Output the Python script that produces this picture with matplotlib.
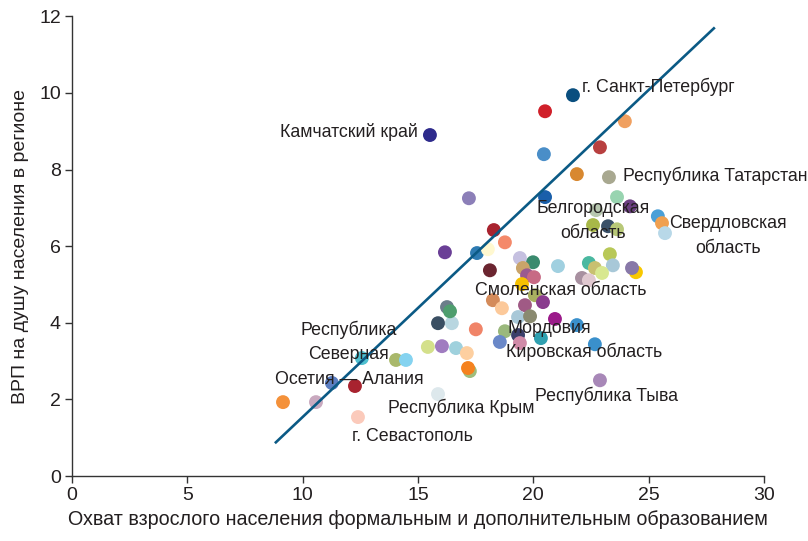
import matplotlib
matplotlib.use("Agg")
import matplotlib.pyplot as plt

plt.rcParams['font.family'] = ['Liberation Sans', 'DejaVu Sans']

# --- data ---
x_vals = [9.15, 10.58, 11.27, 12.27, 12.40, 12.57, 14.05, 14.48, 15.43, 16.04,
          16.65, 17.12, 17.25, 17.17, 15.87, 15.87, 16.47, 16.26, 16.39, 17.51,
          16.17, 17.21, 15.52, 17.56, 18.03, 18.29, 18.77, 18.12, 19.42, 19.99,
          19.55, 19.73, 20.03, 19.51, 20.07, 20.42, 19.64, 18.25, 18.64, 19.34,
          19.86, 20.94, 21.89, 18.77, 18.55, 19.34, 19.42, 20.33, 22.67, 22.89,
          21.72, 20.51, 23.97, 20.46, 22.89, 21.89, 23.28, 20.51, 23.63, 24.19,
          22.72, 22.59, 23.24, 23.63, 25.40, 25.58, 25.71, 23.32, 22.41, 23.45,
          22.67, 22.98, 22.11, 22.41, 24.45, 24.28, 21.07]
y_vals = [1.93, 1.93, 2.43, 2.35, 1.54, 3.08, 3.03, 3.03, 3.37, 3.39,
          3.34, 3.21, 2.74, 2.82, 2.14, 3.99, 3.99, 4.41, 4.30, 3.83,
          5.84, 7.25, 8.90, 5.82, 5.92, 6.42, 6.10, 5.37, 5.69, 5.58,
          5.43, 5.24, 5.19, 5.01, 4.72, 4.54, 4.46, 4.59, 4.38, 4.15,
          4.17, 4.10, 3.94, 3.78, 3.50, 3.68, 3.47, 3.60, 3.44, 2.50,
          9.94, 9.52, 9.26, 8.40, 8.58, 7.88, 7.80, 7.28, 7.28, 7.04,
          6.94, 6.55, 6.52, 6.44, 6.78, 6.60, 6.34, 5.79, 5.56, 5.50,
          5.43, 5.30, 5.17, 5.11, 5.32, 5.43, 5.48]
colors = ['#f4913a', '#c9a9bf', '#5b7ec2', '#a8232f', '#fbcabb', '#4fc0d0', '#a9b86b', '#85d3f0', '#d4e08b', '#a07cc0',
          '#9fd1dd', '#fdcfa0', '#9fbd7c', '#f5821f', '#dde8ec', '#3a4f63', '#b8d6e0', '#6b7e8a', '#4e9e6e', '#f08468',
          '#6a3f96', '#8c7fb8', '#2e2b8c', '#2e7bb2', '#fff8d0', '#a8232f', '#f4896a', '#6b2530', '#c5c0e0', '#3a8a6e',
          '#c9a46a', '#9a5a90', '#c76a84', '#f6c100', '#a9b060', '#8a3b8e', '#a05a85', '#d48b5a', '#fcc99a', '#a8c8d8',
          '#8a8a70', '#9b1a8a', '#3a90cc', '#9ab87c', '#6a88c8', '#3a3f6a', '#d08aa8', '#30a0b0', '#3a90cc', '#a888b8',
          '#0a4f7f', '#d0202a', '#f0a060', '#4a8ec8', '#b84040', '#d88830', '#a8a890', '#1a5faa', '#98d4b0', '#6a3f80',
          '#b8c8b0', '#a8b848', '#3a5068', '#b8c878', '#4aa0d8', '#f0a050', '#b8d8e8', '#b8c858', '#4ab8a0', '#a8c8d8',
          '#c8c070', '#d8e890', '#a890a0', '#e0c8d0', '#f8c800', '#8878a8', '#a0d0e0']

trend_x = [8.8, 27.87]
trend_slope = 0.569
trend_intercept = -4.15

labels = ['г. Санкт-Петербург', 'Камчатский край', 'Республика Татарстан',
          'Белгородская\nобласть', 'Свердловская\nобласть', 'Смоленская область',
          'Мордовия', 'Кировская область', 'Республика Тыва', 'Республика Крым',
          'г. Севастополь', 'Республика\nСеверная\nОсетия — Алания']
label_x = [22.1, 15.0, 23.89, 22.59, 28.44, 17.47, 18.9, 18.81, 20.07, 13.70, 12.14, 12.01]
label_y = [10.15, 8.97, 7.83, 6.65, 6.26, 4.85, 3.86, 3.23, 2.09, 1.77, 1.04, 3.18]
label_ha = ['left', 'right', 'left', 'center', 'center', 'left', 'left', 'left', 'left', 'left', 'left', 'center']

x_ticks = [0, 5, 10, 15, 20, 25, 30]
y_ticks = [0, 2, 4, 6, 8, 10, 12]
x_title = 'Охват взрослого населения формальным и дополнительным образованием'
y_title = 'ВРП на душу населения в регионе'

# --- plot ---
fig = plt.figure(figsize=(8.08, 5.41), dpi=100)
ax = fig.add_axes([0.089, 0.120, 0.8565, 0.850])
ax.scatter(x_vals, y_vals, s=100, c=colors, linewidths=0, zorder=2)
ty = [trend_slope * v + trend_intercept for v in trend_x]
ax.plot(trend_x, ty, color='#0b5a85', lw=1.9, zorder=3, solid_capstyle='butt')

for t, lx, ly, ha in zip(labels, label_x, label_y, label_ha):
    ax.text(lx, ly, t, ha=ha, va='center', multialignment='center', fontsize=12.75,
            color='#231f20', zorder=4, linespacing=1.6)

ax.set_xlim(0, 30)
ax.set_ylim(0, 12)
ax.set_xticks(x_ticks)
ax.set_yticks(y_ticks)
for s in ['top', 'right']:
    ax.spines[s].set_visible(False)
for s in ['left', 'bottom']:
    ax.spines[s].set_color('#333333')
    ax.spines[s].set_linewidth(1.0)
ax.tick_params(direction='out', length=5, width=1.0, color='#333333', labelsize=14,
               labelcolor='#231f20', pad=3)
ax.set_xlabel(x_title, fontsize=14.2, color='#231f20', labelpad=4)
ax.set_ylabel(y_title, fontsize=14, color='#231f20', labelpad=7)

fig.savefig('out.png', dpi=100)
